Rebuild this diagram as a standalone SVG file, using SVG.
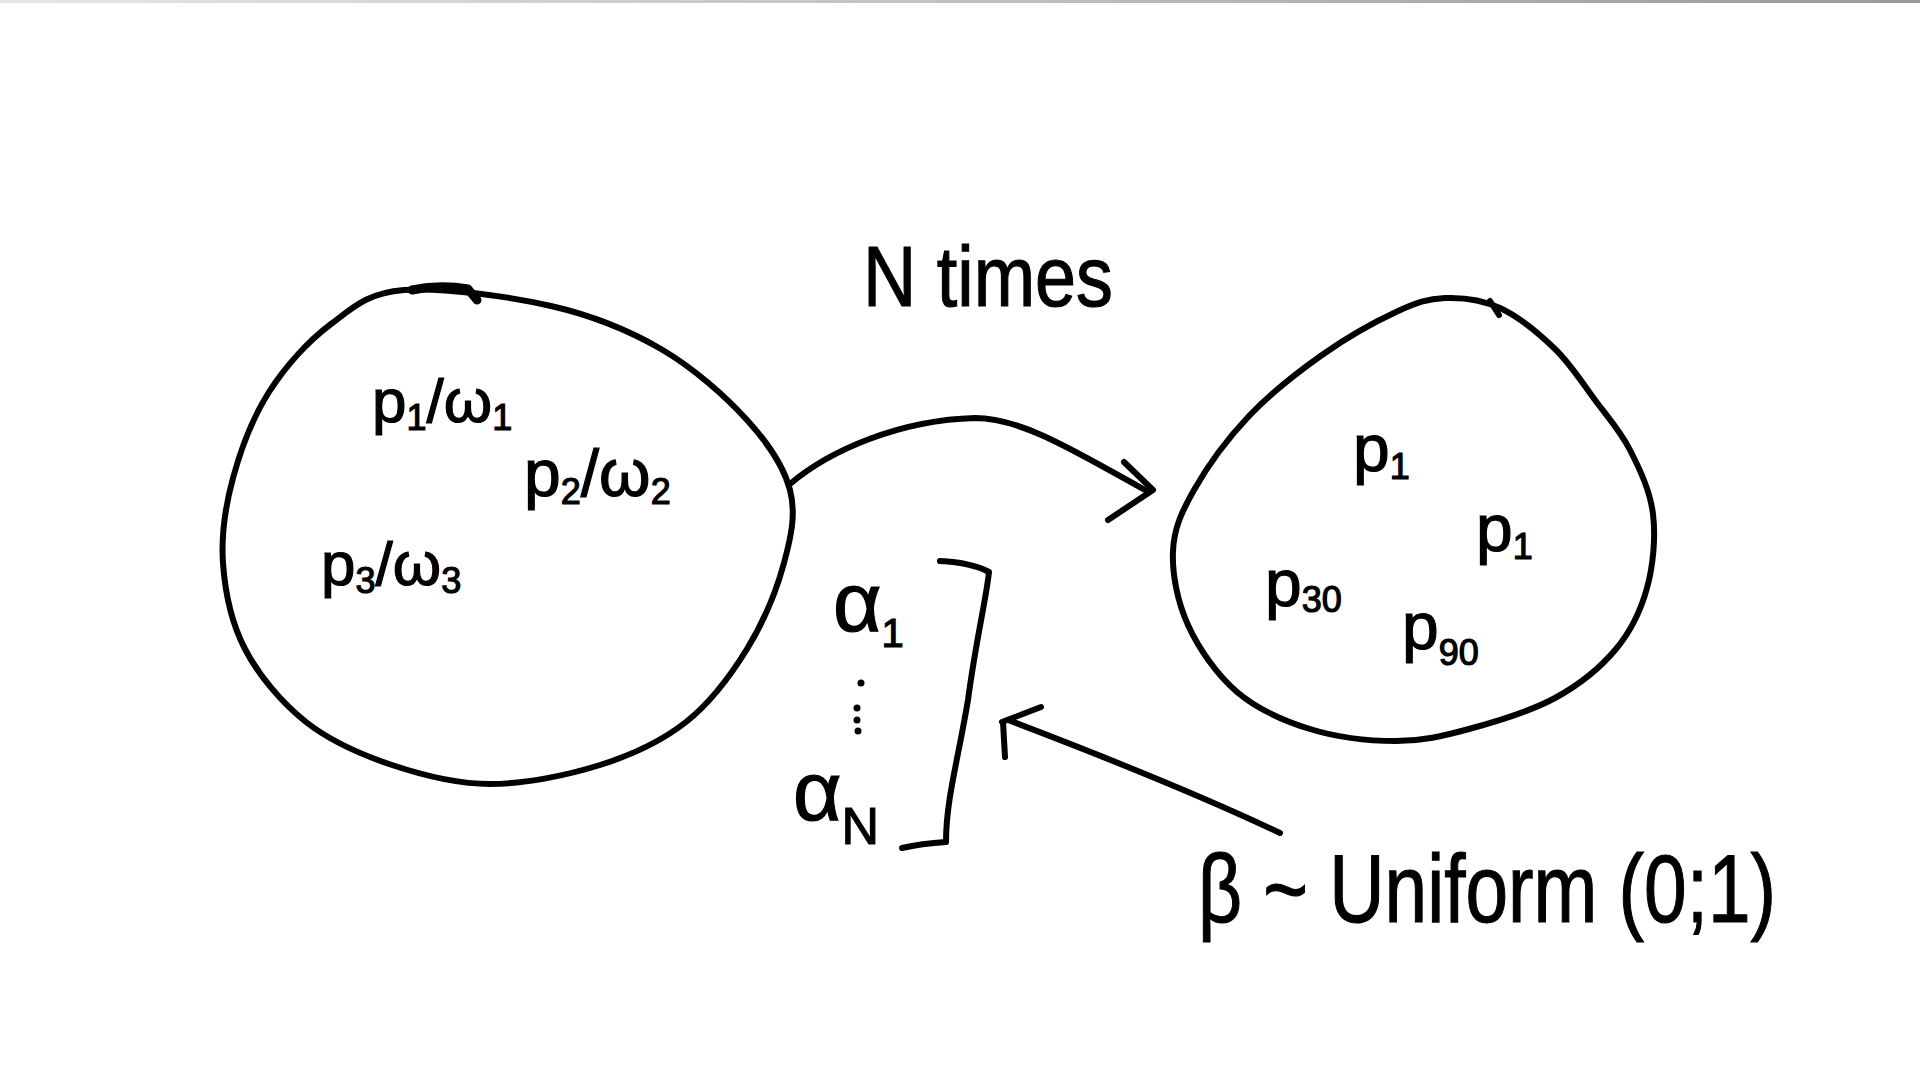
<svg xmlns="http://www.w3.org/2000/svg" width="1920" height="1080" viewBox="0 0 1920 1080">
<style>
.ink{fill:none;stroke:#000;stroke-width:6;stroke-linecap:round;stroke-linejoin:round}
.t{font-family:"Liberation Sans","DejaVu Sans",sans-serif;fill:#000;stroke:#000;stroke-width:1.2}
.sub{font-size:36px}
</style>
<defs>
<linearGradient id="bar" x1="0" x2="1" y1="0" y2="0">
<stop offset="0" stop-color="#e6e6e6"/>
<stop offset="1" stop-color="#9a9a9a"/>
</linearGradient>
</defs>
<rect x="0" y="0" width="1920" height="1080" fill="#fff"/>
<rect x="0" y="0" width="1920" height="3" fill="url(#bar)"/>

<g id="node-weighted">
<path class="ink" d="M 404 290 C 440.7 287, 508.2 296.2, 551 306 C 593.8 315.8, 628.3 330, 661 349 C 693.7 368, 725.5 396.5, 747 420 C 768.5 443.5, 783.8 466.2, 790 490 C 796.2 513.8, 791.2 536.5, 784 563 C 776.8 589.5, 763.3 622.5, 747 649 C 730.7 675.5, 710.5 702.7, 686 722 C 661.5 741.3, 632.7 754.7, 600 765 C 567.3 775.3, 524.7 784, 490 784 C 455.3 784, 422.7 775.3, 392 765 C 361.3 754.7, 330.5 741.3, 306 722 C 281.5 702.7, 258.8 675.5, 245 649 C 231.2 622.5, 225 591.5, 223 563 C 221 534.5, 225.3 506.5, 233 478 C 240.7 449.5, 252.7 417.7, 269 392 C 285.3 366.3, 308.5 341, 331 324 C 353.5 307, 367.3 293, 404 290 Z"/>
<path class="ink" style="stroke-width:9" d="M 412 290 Q 440 284 468 289 L 477 300"/>
<text class="t" x="372" y="422" font-size="62">p<tspan class="sub" dy="8">1</tspan><tspan dy="-8">/ω</tspan><tspan class="sub" dy="8">1</tspan></text>
<text class="t" x="524" y="496" font-size="66">p<tspan class="sub" dy="8">2</tspan><tspan dy="-8">/ω</tspan><tspan class="sub" dy="8">2</tspan></text>
<text class="t" x="321" y="585" font-size="62">p<tspan class="sub" dy="8">3</tspan><tspan dy="-8">/ω</tspan><tspan class="sub" dy="8">3</tspan></text>
</g>

<g id="node-resampled">
<path class="ink" d="M 1445 298 C 1462.3 297.3, 1481.7 299.5, 1500 308 C 1518.3 316.5, 1539.2 333.7, 1555 349 C 1570.8 364.3, 1582.5 383.2, 1595 400 C 1607.5 416.8, 1620.3 431, 1630 450 C 1639.7 469, 1650.2 491, 1653 514 C 1655.8 537, 1653.2 565.5, 1647 588 C 1640.8 610.5, 1631.3 630.7, 1616 649 C 1600.7 667.3, 1579.5 684.7, 1555 698 C 1530.5 711.3, 1495.5 721.8, 1469 729 C 1442.5 736.2, 1422.5 741, 1396 741 C 1369.5 741, 1336.5 737.2, 1310 729 C 1283.5 720.8, 1257.3 709.3, 1237 692 C 1216.7 674.7, 1198.7 648.5, 1188 625 C 1177.3 601.5, 1172 573.5, 1173 551 C 1174 528.5, 1181.3 512.5, 1194 490 C 1206.7 467.5, 1227.7 438.5, 1249 416 C 1270.3 393.5, 1297.5 372.3, 1322 355 C 1346.5 337.7, 1375.5 321.5, 1396 312 C 1416.5 302.5, 1427.7 298.7, 1445 298 Z"/>
<path class="ink" d="M 1490 301 L 1499 315"/>
<text class="t" x="1353" y="471" font-size="66">p<tspan class="sub" dy="8">1</tspan></text>
<text class="t" x="1476" y="551" font-size="66">p<tspan class="sub" dy="8">1</tspan></text>
<text class="t" x="1265" y="606" font-size="66">p<tspan class="sub" font-size="42" dy="6">30</tspan></text>
<text class="t" x="1402" y="649" font-size="66">p<tspan class="sub" font-size="44" dy="16">90</tspan></text>
</g>

<g id="label-n-times">
<text class="t" x="863" y="306" font-size="86" textLength="250" lengthAdjust="spacingAndGlyphs">N times</text>
</g>

<g id="alpha-vector">
<text class="t" x="833" y="631" font-size="84">α<tspan font-size="40" dy="16">1</tspan></text>
<circle cx="861" cy="683" r="3.5"/>
<circle cx="857" cy="708" r="3.5"/>
<circle cx="857" cy="720" r="3.5"/>
<circle cx="858" cy="731" r="3.5"/>
<text class="t" x="793" y="820" font-size="84">α<tspan font-size="52" dy="24">N</tspan></text>
<path class="ink" d="M 940 561 C 960 562, 978 566, 989 572 C 986 600, 976 640, 968 700 C 958 760, 946 800, 946 842 C 930 843, 915 845, 902 848"/>
</g>

<g id="beta-label">
<text class="t" x="1198" y="922" font-size="96" textLength="578" lengthAdjust="spacingAndGlyphs">β ~ Uniform (0;1)</text>
</g>

<g id="connectors">
<path class="ink" d="M 790 484 C 830 450, 900 420, 975 418 C 1020 418, 1070 448, 1145 490"/>
<path class="ink" d="M 1124 462 L 1153 490 L 1108 520"/>
<path class="ink" d="M 1280 833 C 1200 795, 1100 755, 1008 720"/>
<path class="ink" d="M 1002 722 L 1041 707 M 1003 722 L 1005 757"/>
</g>
</svg>
